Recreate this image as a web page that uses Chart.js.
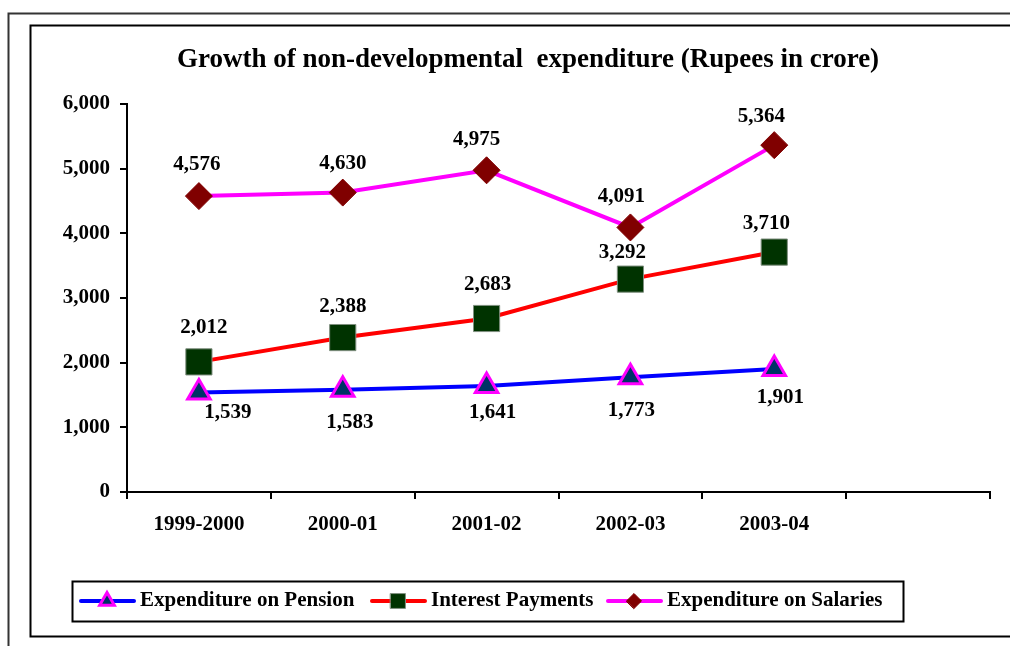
<!DOCTYPE html>
<html>
<head>
<meta charset="utf-8">
<script src="https://cdn.jsdelivr.net/npm/chart.js@4.4.0/dist/chart.umd.min.js"></script>
<style>
html,body{margin:0;padding:0;background:#fff;}
#wrap{width:1010px;height:646px;position:relative;}
</style>
</head>
<body>
<div id="wrap"><canvas id="c" width="1010" height="646"></canvas></div>
<script>
const categories = ['1999-2000', '2000-01', '2001-02', '2002-03', '2003-04', ''];
const pension = [1539, 1583, 1641, 1773, 1901];
const interest = [2012, 2388, 2683, 3292, 3710];
const salaries = [4576, 4630, 4975, 4091, 5364];
const yTicks = [0, 1000, 2000, 3000, 4000, 5000, 6000];
const titleText = 'Growth of non-developmental  expenditure (Rupees in crore)';
const seriesNames = ['Expenditure on Pension', 'Interest Payments', 'Expenditure on Salaries'];

const FONT = '"Liberation Serif", "Times New Roman", serif';

const decor = {
  id: 'decor',
  beforeDraw(chart) {
    const ctx = chart.ctx;
    ctx.save();
    ctx.fillStyle = '#fff';
    ctx.fillRect(0, 0, chart.width, chart.height);
    // outer frame
    ctx.strokeStyle = '#333';
    ctx.lineWidth = 2;
    ctx.beginPath();
    ctx.moveTo(8.5, 660); ctx.lineTo(8.5, 13.5); ctx.lineTo(1020, 13.5);
    ctx.stroke();
    // inner frame
    ctx.strokeStyle = '#000';
    ctx.lineWidth = 2;
    ctx.beginPath();
    ctx.moveTo(1020, 25.5); ctx.lineTo(30.5, 25.5); ctx.lineTo(30.5, 636.5); ctx.lineTo(1020, 636.5);
    ctx.stroke();
    // title
    ctx.fillStyle = '#000';
    ctx.font = 'bold 27px ' + FONT;
    ctx.textAlign = 'center';
    ctx.textBaseline = 'middle';
    ctx.fillText(titleText, 528, 60);
    ctx.restore();
  },
  afterDatasetsDraw(chart) {
    const ctx = chart.ctx;
    ctx.save();
    ctx.fillStyle = '#000';
    ctx.font = 'bold 21px ' + FONT;
    ctx.textAlign = 'center';
    ctx.textBaseline = 'middle';
    chart.data.datasets.forEach((ds, di) => {
      const meta = chart.getDatasetMeta(di);
      meta.data.forEach((pt, i) => {
        const v = ds.data[i];
        if (v == null) return;
        const off = ds.labelOffsets[i];
        ctx.fillText(v.toLocaleString('en-US'), pt.x + off[0], pt.y + off[1]);
      });
    });
    ctx.restore();
  },
  afterDraw(chart) {
    const ctx = chart.ctx;
    ctx.save();
    // legend box
    ctx.strokeStyle = '#000';
    ctx.lineWidth = 2;
    ctx.strokeRect(72.5, 581.5, 831, 40);
    const items = [
      {x: 79, tx: 140},
      {x: 370, tx: 431},
      {x: 606, tx: 667}
    ];
    const cy = 601;
    chart.data.datasets.forEach((ds, di) => {
      const it = items[di];
      ctx.strokeStyle = ds.borderColor;
      ctx.lineWidth = 4;
      ctx.lineCap = 'round';
      ctx.beginPath();
      ctx.moveTo(it.x + 2, cy); ctx.lineTo(it.x + 55, cy);
      ctx.stroke();
      ctx.fillStyle = ds.pointBackgroundColor;
      ctx.strokeStyle = ds.pointBorderColor;
      ctx.lineWidth = ds.pointBorderWidth;
      Chart.helpers.drawPoint(ctx, {pointStyle: ds.pointStyle, radius: ds.legendRadius, borderWidth: ds.pointBorderWidth}, it.x + 28, cy);
      ctx.fillStyle = '#000';
      ctx.font = 'bold 21px ' + FONT;
      ctx.textAlign = 'left';
      ctx.textBaseline = 'middle';
      ctx.fillText(seriesNames[di], it.tx, cy);
    });
    ctx.restore();
  }
};

new Chart(document.getElementById('c'), {
  type: 'line',
  data: {
    labels: categories,
    datasets: [
      {
        label: seriesNames[0], data: pension,
        borderColor: '#0000FF', borderWidth: 4,
        pointStyle: 'triangle', pointRadius: 13, pointHoverRadius: 13,
        pointBackgroundColor: '#003366', pointBorderColor: '#FF00FF', pointBorderWidth: 3,
        legendRadius: 8.5,
        labelOffsets: [[29, 20], [7, 33], [6, 27], [1, 33], [6, 29]]
      },
      {
        label: seriesNames[1], data: interest,
        borderColor: '#FF0000', borderWidth: 4,
        pointStyle: 'rect', pointRadius: 18.5, pointHoverRadius: 18.5,
        pointBackgroundColor: '#003300', pointBorderColor: '#7f8f7f', pointBorderWidth: 1,
        legendRadius: 10.5,
        labelOffsets: [[5, -34], [0, -31], [1, -34], [-8, -27], [-8, -29]]
      },
      {
        label: seriesNames[2], data: salaries,
        borderColor: '#FF00FF', borderWidth: 4,
        pointStyle: 'rectRot', pointRadius: 13.5, pointHoverRadius: 13.5,
        pointBackgroundColor: '#800000', pointBorderColor: '#800000', pointBorderWidth: 1,
        legendRadius: 7.5,
        labelOffsets: [[-2, -32], [0, -29], [-10, -31], [-9, -31], [-13, -29]]
      }
    ]
  },
  options: {
    responsive: false,
    animation: false,
    events: [],
    layout: {padding: {left: 0, right: 20, top: 104, bottom: 114}},
    plugins: {legend: {display: false}, title: {display: false}, tooltip: {enabled: false}},
    scales: {
      x: {
        type: 'category',
        offset: true,
        grid: {offset: true, drawOnChartArea: false, drawTicks: true, tickLength: 7, color: '#000', lineWidth: 2},
        border: {display: true, color: '#000', width: 2},
        ticks: {color: '#000', font: {family: FONT, size: 21, weight: 'bold'}, padding: 13, maxRotation: 0, autoSkip: false},
        afterFit(s) { s.height = 40; }
      },
      y: {
        min: 0, max: 6000,
        afterBuildTicks(s) { s.ticks = yTicks.map(v => ({value: v})); },
        grid: {drawOnChartArea: false, drawTicks: true, tickLength: 7, color: '#000', lineWidth: 2},
        border: {display: true, color: '#000', width: 2},
        ticks: {color: '#000', font: {family: FONT, size: 21, weight: 'bold'}, padding: 10,
          callback: v => Number(v).toLocaleString('en-US')},
        afterFit(s) { s.width = 127; }
      }
    }
  },
  plugins: [decor]
});
</script>
</body>
</html>
